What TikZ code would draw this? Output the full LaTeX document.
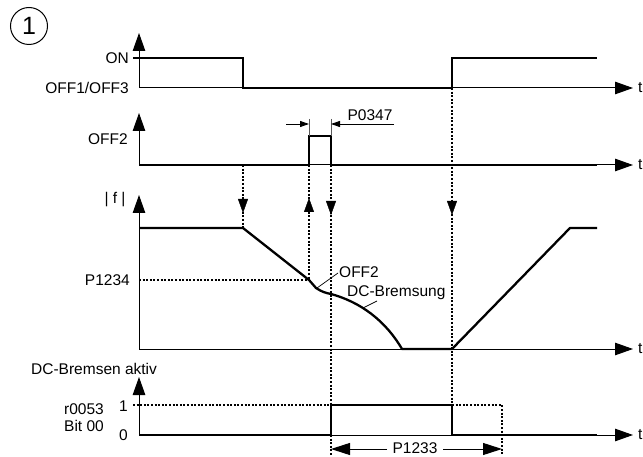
\documentclass[tikz,border=0pt]{standalone}
\usepackage{fontspec}
\setmainfont{Liberation Sans}
\usetikzlibrary{arrows.meta}
\begin{document}
\begin{tikzpicture}[x=1pt,y=-1pt,
  thinax/.style={line width=1pt},
  sig/.style={line width=2.3pt,line join=miter},
  dots/.style={line width=1.1pt,dash pattern=on 2pt off 1.6pt},
  axarrow/.style={-{Triangle[length=18pt,width=12.5pt]}},
  dtip/.style={-{Triangle[length=14pt,width=10pt]}},
  smalltip/.style={-{Triangle[length=9pt,width=6pt]}},
  dimtip/.style={-{Triangle[length=19pt,width=12pt]}},
  lbl/.style={inner sep=0pt,font=\fontsize{15.5}{18}\selectfont}]
\useasboundingbox (0,0) rectangle (643,457);
% circled number
\node[circle,draw,line width=1pt,minimum size=37pt,inner sep=0pt,font=\fontsize{25}{28}\selectfont] (num) at (29,26) {1};

% ---------- panel 1: ON / OFF1/OFF3 ----------
\coordinate (o1) at (139,88);
\draw[thinax,axarrow] (o1) -- (139,33);
\draw[thinax,axarrow] (o1) -- (633,88);
\draw[sig] (133,58) -- (243,58) -- (243,88) -- (452,88) -- (452,58) -- (597,58);
\node[lbl,anchor=east] (on) at (129,58) {ON};
\node[lbl,anchor=east] (off13) at (129,88) {OFF1/OFF3};
\node[lbl,anchor=west] (t1) at (638,88) {t};

% ---------- panel 2: OFF2 ----------
\coordinate (o2) at (139,165);
\draw[thinax,axarrow] (o2) -- (139,113);
\draw[thinax,axarrow] (o2) -- (633,165);
\draw[sig] (139,165) -- (309,165) -- (309,136) -- (331,136) -- (331,165) -- (597,165);
\node[lbl,anchor=east] (off2) at (128,139) {OFF2};
\node[lbl,anchor=west] (t2) at (638,165) {t};
% P0347
\draw[line width=0.8pt,gray!70!black] (309,119) -- (309,136);
\draw[line width=0.8pt,gray!70!black] (331,119) -- (331,136);
\draw[line width=0.9pt,smalltip] (286,124) -- (309,124);
\draw[line width=0.9pt,smalltip] (394,124) -- (331,124);
\node[lbl] (p0347) at (370,115) {P0347};

% ---------- panel 3: |f| ----------
\coordinate (o3) at (139,349);
\draw[thinax,axarrow] (o3) -- (139,195);
\draw[thinax,axarrow] (o3) -- (633,349);
\draw[dots] (139,280) -- (309,280);
\draw[sig,line join=round] (139,228) -- (243,228) -- (309,280) -- (316,288)
  .. controls (322,292) and (326,293) .. (331,294)
  .. controls (360,302) and (385,320) .. (402,349)
  -- (452,349) -- (570,228) -- (597,228);
\node[lbl] (f) at (115,200) {| f |};
\node[lbl,anchor=east] (p1234) at (130,280) {P1234};
\node[lbl,anchor=west] (t3) at (638,349) {t};
% labels with leaders
\node[lbl,anchor=west] (off2b) at (339,272) {OFF2};
\draw[line width=0.7pt] (317,288) -- (338,273);
\node[lbl,anchor=west] (dcb) at (347,293) {DC-Bremsung};
\draw[line width=0.7pt] (363,308) -- (377,301);

% ---------- panel 4: r0053 ----------
\coordinate (o4) at (139,435);
\draw[thinax,axarrow] (o4) -- (139,377);
\draw[thinax,axarrow] (o4) -- (633,435);
\draw[dots] (133,405) -- (331,405);
\draw[dots] (452,405) -- (502,405) -- (502,455);
\draw[sig] (139,435) -- (331,435) -- (331,405) -- (452,405) -- (452,435) -- (597,435);
\node[lbl,anchor=west] (dcakt) at (31,369) {DC-Bremsen aktiv};
\node[lbl,anchor=east] (r53) at (104,409) {r0053};
\node[lbl,anchor=east] (bit) at (104,426) {Bit 00};
\node[lbl,anchor=east] (one) at (128,406) {1};
\node[lbl,anchor=east] (zero) at (128,435) {0};
\node[lbl,anchor=west] (t4) at (638,435) {t};
% P1233
\node[lbl] (p1233) at (415,448) {P1233};
\draw[line width=1pt,dimtip] (387,449) -- (331,449);
\draw[line width=1pt,dimtip] (443,449) -- (502,449);

% ---------- dotted connectors ----------
\draw[dots] (243,165) -- (243,228);
\draw[dtip] (243,200) -- (243,213);
\draw[dots] (309,165) -- (309,280);
\draw[dtip] (309,212) -- (309,198);
\draw[dots] (331,165) -- (331,455);
\draw[dtip] (331,202) -- (331,215);
\draw[dots] (452,88) -- (452,405);
\draw[dtip] (452,202) -- (452,215);
\end{tikzpicture}
\end{document}
